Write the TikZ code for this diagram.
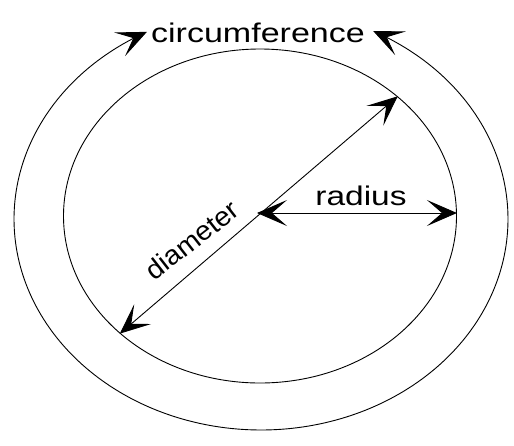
\documentclass[tikz,border=0pt]{standalone}
\usepackage{fontspec}
\setmainfont{Liberation Sans}
\usetikzlibrary{arrows.meta,shapes.geometric}
\begin{document}
\begin{tikzpicture}[x=1pt,y=-1pt,
  >={Stealth[length=30pt,width=26pt,inset=15pt]},
  line/.style={line width=0.9pt,black},
  lbl/.style={font=\fontsize{27}{30}\selectfont,inner sep=0pt}]
\useasboundingbox (0,0) rectangle (514,445);
% inner circle
\node[ellipse,draw,line,minimum width=393pt,minimum height=334pt,inner sep=0pt] (inner) at (260,216) {};
\coordinate (c) at (257,213);
% outer arc with arrows toward the label
\draw[line,<->]
  plot[domain=117.5:423,samples=240] ({261+247*cos(\x)},{219-211*sin(\x)});
\node[lbl,xscale=1.26] (circ) at (258,33) {circumference};
% diameter
\draw[line,<->] (inner.220) -- (inner.41);
\node[lbl,rotate=38,xscale=1.05] (diam) at (192,240) {diameter};
% radius
\draw[line,<->] (c) -- (inner.east |- c);
\node[lbl,xscale=1.24] (rad) at (361,196) {radius};
\end{tikzpicture}
\end{document}
